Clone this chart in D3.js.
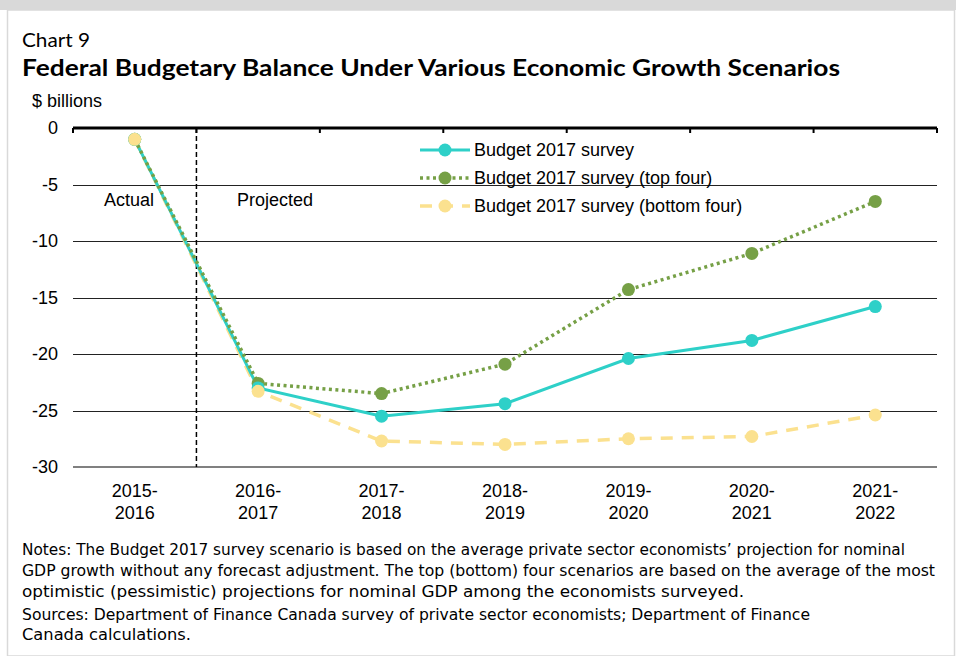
<!DOCTYPE html>
<html>
<head>
<meta charset="utf-8">
<script src="https://cdn.jsdelivr.net/npm/d3@7/dist/d3.min.js"></script>
<style>
  html, body { margin: 0; padding: 0; background: #fff; }
  svg { display: block; }
</style>
</head>
<body>
<svg id="chart" width="956" height="656"></svg>
<script>
const categories = [["2015-","2016"],["2016-","2017"],["2017-","2018"],["2018-","2019"],["2019-","2020"],["2020-","2021"],["2021-","2022"]];
const survey       = [-1.0, -23.0, -25.5, -24.4, -20.4, -18.8, -15.8];
const topFour      = [-1.0, -22.6, -23.5, -20.9, -14.3, -11.1, -6.5];
const bottomFour   = [-1.0, -23.3, -27.7, -28.0, -27.5, -27.3, -25.4];
const yTicks = [0, -5, -10, -15, -20, -25, -30];
const seriesNames = ["Budget 2017 survey", "Budget 2017 survey (top four)", "Budget 2017 survey (bottom four)"];
const notes = [
  "Notes: The Budget 2017 survey scenario is based on the average private sector economists\u2019 projection for nominal",
  "GDP growth without any forecast adjustment. The top (bottom) four scenarios are based on the average of the most",
  "optimistic (pessimistic) projections for nominal GDP among the economists surveyed."
];
const sources = [
  "Sources: Department of Finance Canada survey of private sector economists; Department of Finance",
  "Canada calculations."
];

(function () {
const svg = d3.select("#chart");
const W = 956, H = 656;

// frame
svg.append("rect").attr("x", 0).attr("y", 0).attr("width", W).attr("height", 10).attr("fill", "#d9d9d9");
svg.append("rect").attr("x", 7.5).attr("y", 10).attr("width", W - 9).attr("height", H - 10)
  .attr("fill", "#fff").attr("stroke", "#d9d9d9").attr("stroke-width", 1.5);

const axisFont = "'Liberation Sans', Arial, sans-serif";
const gothic = "'Lato', 'DejaVu Sans', sans-serif";
const fs = 18;

svg.append("text").attr("x", 22).attr("y", 47).text("Chart 9")
  .attr("font-family", gothic).attr("font-size", 19).attr("fill", "#000")
  .attr("textLength", 68).attr("lengthAdjust", "spacingAndGlyphs");
svg.append("text").attr("x", 22).attr("y", 76).text("Federal Budgetary Balance Under Various Economic Growth Scenarios")
  .attr("font-family", gothic).attr("font-weight", 700).attr("font-size", 22).attr("fill", "#000")
  .attr("textLength", 818).attr("lengthAdjust", "spacingAndGlyphs");
svg.append("text").attr("x", 32).attr("y", 107).text("$ billions")
  .attr("font-family", axisFont).attr("font-size", fs).attr("fill", "#000");

const pl = 73, pr = 937, pt = 128, pb = 467;
const x = d3.scaleBand().domain(d3.range(categories.length)).range([pl, pr]);
const y = d3.scaleLinear().domain([-30, 0]).range([pb, pt]);
const cx = i => x(i) + x.bandwidth() / 2;

// gridlines
svg.append("g").selectAll("line").data(yTicks.filter(t => t !== 0 && t !== -30)).join("line")
  .attr("x1", pl).attr("x2", pr).attr("y1", d => Math.round(y(d)) + 0.5).attr("y2", d => Math.round(y(d)) + 0.5)
  .attr("stroke", "#222").attr("stroke-width", 1);
// bottom line
svg.append("line").attr("x1", pl).attr("x2", pr).attr("y1", y(-30)).attr("y2", y(-30))
  .attr("stroke", "#808080").attr("stroke-width", 2);

// y tick labels
svg.append("g").selectAll("text").data(yTicks).join("text")
  .attr("x", 58).attr("y", d => y(d)).attr("dy", "0.35em").attr("text-anchor", "end")
  .attr("font-family", axisFont).attr("font-size", fs).attr("fill", "#000").text(d => d);

// x labels
const xl = svg.append("g").selectAll("text").data(categories).join("text")
  .attr("text-anchor", "middle").attr("font-family", axisFont).attr("font-size", fs).attr("fill", "#000");
xl.append("tspan").attr("x", (d, i) => cx(i)).attr("y", 497).text(d => d[0]);
xl.append("tspan").attr("x", (d, i) => cx(i)).attr("y", 519).text(d => d[1]);

// vertical dashed separator
svg.append("line").attr("x1", x(1)).attr("x2", x(1)).attr("y1", pt).attr("y2", pb)
  .attr("stroke", "#000").attr("stroke-width", 1.5).attr("stroke-dasharray", "5,3");

// zero axis with ticks
const boundaries = d3.range(categories.length + 1).map(i => i < categories.length ? x(i) : pr);
svg.append("g").selectAll("line").data(boundaries).join("line")
  .attr("x1", d => d).attr("x2", d => d).attr("y1", y(0)).attr("y2", y(0) + 5)
  .attr("stroke", "#000").attr("stroke-width", 2);
svg.append("line").attr("x1", pl).attr("x2", pr).attr("y1", y(0)).attr("y2", y(0))
  .attr("stroke", "#000").attr("stroke-width", 3);

// Actual / Projected
svg.append("text").attr("x", 129).attr("y", 206).attr("text-anchor", "middle")
  .attr("font-family", axisFont).attr("font-size", fs).text("Actual");
svg.append("text").attr("x", 275).attr("y", 206).attr("text-anchor", "middle")
  .attr("font-family", axisFont).attr("font-size", fs).text("Projected");

const series = [
  { name: seriesNames[0], values: survey, color: "#2ed0c8", dash: null, width: 3 },
  { name: seriesNames[1], values: topFour, color: "#76a046", dash: "3,3.5", width: 3.5 },
  { name: seriesNames[2], values: bottomFour, color: "#fbe18f", dash: "12,9", width: 3.5 }
];
const line = d3.line().x((d, i) => cx(i)).y(d => y(d));

[series[2], series[0], series[1]].forEach(s => {
  svg.append("path").datum(s.values).attr("d", line).attr("fill", "none")
    .attr("stroke", s.color).attr("stroke-width", s.width)
    .attr("stroke-dasharray", s.dash);
});
[series[1], series[0], series[2]].forEach(s => {
  svg.append("g").selectAll("circle").data(s.values).join("circle")
    .attr("cx", (d, i) => cx(i)).attr("cy", d => y(d)).attr("r", 6.5).attr("fill", s.color);
});

// legend
const lg = svg.append("g");
series.forEach((s, i) => {
  const ly = 150 + i * 28;
  lg.append("line").attr("x1", 420).attr("x2", 470).attr("y1", ly).attr("y2", ly)
    .attr("stroke", s.color).attr("stroke-width", s.width).attr("stroke-dasharray", s.dash);
  lg.append("circle").attr("cx", 445).attr("cy", ly).attr("r", 6.5).attr("fill", s.color);
  lg.append("text").attr("x", 474).attr("y", ly).attr("dy", "0.35em")
    .attr("font-family", axisFont).attr("font-size", fs).attr("fill", "#000").text(s.name);
});

// notes
const noteFont = "'DejaVu Sans Condensed', 'DejaVu Sans', sans-serif";
const noteLens = [883, 913, 722];
notes.forEach((t, i) => {
  svg.append("text").attr("x", 22).attr("y", 555 + i * 21).text(t)
    .attr("font-family", noteFont).attr("font-size", 16).attr("fill", "#000")
    .attr("textLength", noteLens[i]).attr("lengthAdjust", "spacingAndGlyphs");
});
const srcLens = [788, 169];
sources.forEach((t, i) => {
  svg.append("text").attr("x", 22).attr("y", 620 + i * 20).text(t)
    .attr("font-family", noteFont).attr("font-size", 16).attr("fill", "#000")
    .attr("textLength", srcLens[i]).attr("lengthAdjust", "spacingAndGlyphs");
});
})();
</script>
</body>
</html>
